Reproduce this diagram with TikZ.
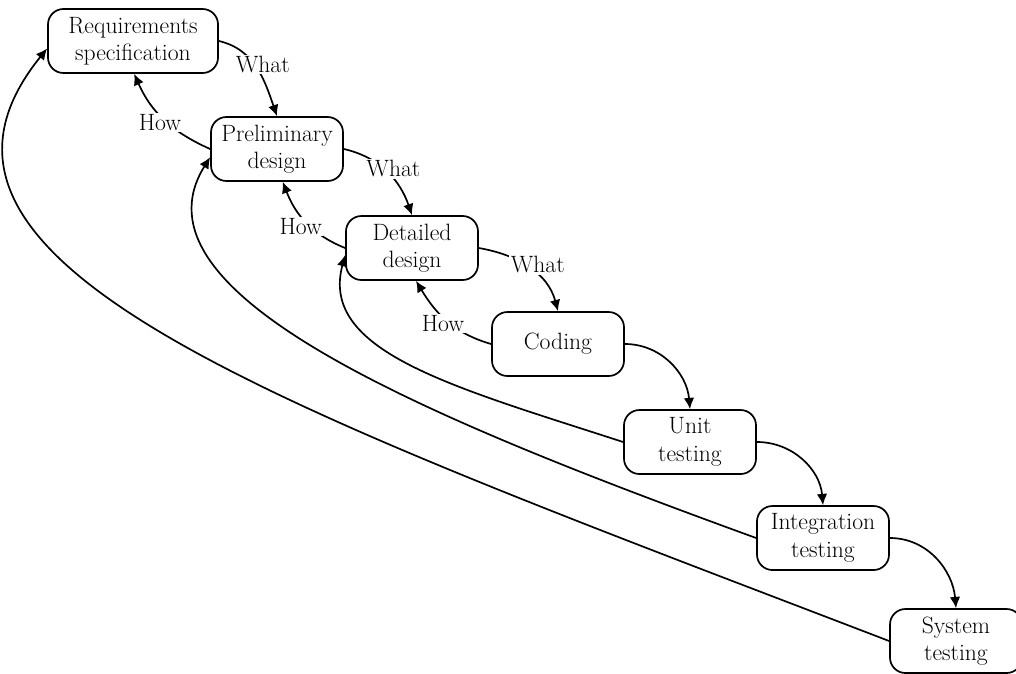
\documentclass[tikz,border=0pt]{standalone}
\usetikzlibrary{arrows.meta}
\begin{document}
\begin{tikzpicture}[>={Latex[length=8pt,width=7.5pt]}, x=0.025cm, y=0.025cm, line width=1.2pt,
    stage/.style={draw, rounded corners=11pt, align=center, minimum width=3.3cm, minimum height=1.6cm, font=\fontsize{16.8}{19.5}\selectfont},
    lbl/.style={fill=white, inner sep=1pt, font=\fontsize{16.8}{19.5}\selectfont}]
\useasboundingbox (0,0) rectangle (1016,-673);

\node (req) at (133,-41)[stage, minimum width=4.25cm]{Requirements\\specification};
\node (prel) at (277,-149)[stage]{Preliminary\\design};
\node (det) at (412,-248)[stage]{Detailed\\design};
\node (cod) at (558,-344)[stage]{Coding};
\node (unit) at (690,-442)[stage]{Unit\\testing};
\node (integ) at (823,-538)[stage]{Integration\\testing};
\node (sys) at (956,-641)[stage]{System\\testing};

% testing back to design
\draw[->] (unit.west) .. controls +(162:180) and +(-105:100) .. (det.186);
\draw[->] (integ.west) .. controls +(160:360) and +(-122:160) .. (prel.187);
\draw[->] (sys.west) .. controls +(159:650) and +(-129:280) .. (req.185);

% what / how
\draw[->] (req.east) to[out=-13,in=109] node[lbl, pos=.45, xshift=6pt]{What} (prel.north);
\draw[->] (prel.east) to[out=-13,in=109] node[lbl, pos=.45, xshift=7pt]{What} (det.north);
\draw[->] (det.east) to[out=-10,in=105] node[lbl, pos=.45, xshift=9pt]{What} (cod.north);
\draw[->] (prel.west) to[out=156,in=-66] node[lbl, xshift=-3pt, yshift=-2pt]{How} (req.-88);
\draw[->] (det.west) to[out=158,in=-69] node[lbl, xshift=-4pt, yshift=-3pt]{How} (prel.-80);
\draw[->] (cod.west) to[out=164,in=-59] node[lbl, xshift=-3pt, yshift=-2pt]{How} (det.-83);

\draw[->] (cod.east) to[out=0,in=95] (unit.north);
\draw[->] (unit.east) to[out=0,in=95] (integ.north);
\draw[->] (integ.east) to[out=0,in=95] (sys.north);
\end{tikzpicture}
\end{document}
